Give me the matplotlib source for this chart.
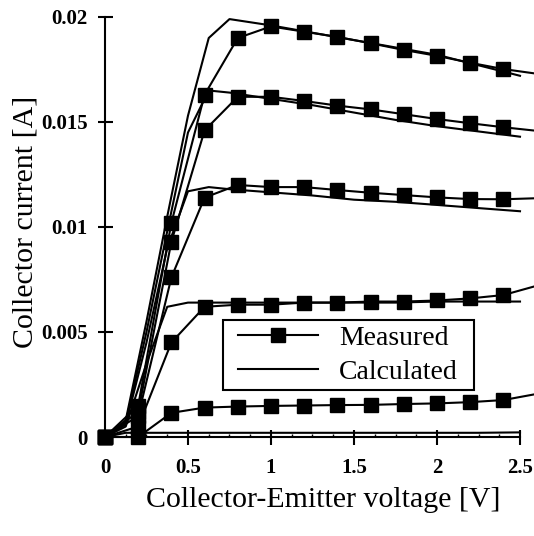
import matplotlib
matplotlib.use("Agg")
import matplotlib.pyplot as plt
import numpy as np
from matplotlib.ticker import MultipleLocator
from matplotlib.patches import Rectangle

plt.rcParams['font.family'] = ['Liberation Serif', 'DejaVu Serif']

# measured points (Vce step 0.2 V, last point lies past the axis end)
v_meas = [0, 0.2, 0.4, 0.6, 0.8, 1.0, 1.2, 1.4, 1.6, 1.8, 2.0, 2.2, 2.4, 2.6]
i_meas_1 = [0, 0.0015, 0.0102, 0.0163, 0.0190, 0.01955, 0.0193, 0.01905,
            0.01875, 0.01843, 0.01815, 0.01782, 0.01752, 0.0173]
i_meas_2 = [0, 0.0012, 0.0093, 0.0146, 0.0162, 0.0162, 0.0160, 0.01578,
            0.0156, 0.01537, 0.01514, 0.01494, 0.01475, 0.01458]
i_meas_3 = [0, 0.0010, 0.0076, 0.0114, 0.0120, 0.0119, 0.0119, 0.01176,
            0.01163, 0.01152, 0.01141, 0.01133, 0.01132, 0.01137]
i_meas_4 = [0, 0.0005, 0.0045, 0.0062, 0.0063, 0.0063, 0.0064, 0.0064,
            0.00645, 0.00645, 0.0065, 0.0066, 0.00676, 0.0072]
i_meas_5 = [0, 0, 0.00115, 0.0014, 0.00145, 0.00148, 0.0015, 0.00152,
            0.00153, 0.00157, 0.0016, 0.00166, 0.00176, 0.00205]

# calculated curves
v_calc = [0, 0.125, 0.25, 0.375, 0.5, 0.625, 0.75, 1.0, 1.25, 1.5, 1.75,
          2.0, 2.25, 2.5]
i_calc_1 = [0, 0.0008, 0.0055, 0.0105, 0.0153, 0.0190, 0.0199, 0.0196,
            0.01925, 0.0189, 0.01855, 0.0182, 0.0177, 0.0172]
i_calc_2 = [0, 0.0007, 0.0050, 0.0098, 0.0145, 0.0165, 0.0164, 0.0161,
            0.0158, 0.01545, 0.0151, 0.0148, 0.01455, 0.0143]
i_calc_3 = [0, 0.0006, 0.0045, 0.0090, 0.0117, 0.0119, 0.0118, 0.01165,
            0.0115, 0.0113, 0.0112, 0.01105, 0.0109, 0.01075]
i_calc_4 = [0, 0.0005, 0.0035, 0.0062, 0.0064, 0.0064, 0.0064, 0.0064,
            0.0064, 0.0064, 0.0064, 0.00645, 0.00645, 0.00645]
i_calc_5 = [0, 0.0002, 0.0002, 0.0002, 0.0002, 0.0002, 0.0002, 0.0002,
            0.0002, 0.0002, 0.0002, 0.0002, 0.0002, 0.00022]

meas = [i_meas_1, i_meas_2, i_meas_3, i_meas_4, i_meas_5]
calc = [i_calc_1, i_calc_2, i_calc_3, i_calc_4, i_calc_5]

fig = plt.figure(figsize=(5.34, 5.36), dpi=100)
ax = fig.add_axes([0.1966, 0.1847, 0.7772, 0.7836])

for k, i_m in enumerate(meas):
    ax.plot(v_meas, i_m, color='k', lw=1.5, marker='s', ms=10.5,
            markevery=slice(0, len(v_meas) - 1), clip_on=False,
            label='Measured' if k == 0 else None)
for k, i_c in enumerate(calc):
    ax.plot(v_calc, i_c, color='k', lw=1.5, clip_on=False,
            label='Calculated' if k == 0 else None)

ax.set_xlim(0, 2.5)
ax.set_ylim(0, 0.02)
ax.set_xticks([0, 0.5, 1, 1.5, 2, 2.5])
ax.set_xticklabels(['0', '0.5', '1', '1.5', '2', '2.5'])
ax.set_yticks([0, 0.005, 0.01, 0.015, 0.02])
ax.set_yticklabels(['0', '0.005', '0.01', '0.015', '0.02'])
ax.xaxis.set_minor_locator(MultipleLocator(0.125))

for s in ['top', 'right']:
    ax.spines[s].set_visible(False)
for s in ['left', 'bottom']:
    ax.spines[s].set_linewidth(1.5)

ax.tick_params(which='major', direction='inout', length=10.8, width=1.5,
               labelsize=15)
ax.tick_params(axis='x', which='major', pad=10)
ax.tick_params(axis='y', which='major', pad=7)
ax.tick_params(axis='x', which='minor', direction='in', length=2.5, width=1)
for lbl in ax.get_xticklabels() + ax.get_yticklabels():
    lbl.set_fontweight('bold')

ax.set_xlabel('Collector-Emitter voltage [V]', fontsize=21.5, va='center')
ax.xaxis.set_label_coords(0.525, -0.15)
ax.set_ylabel('Collector current [A]', fontsize=21.5, va='center')
ax.yaxis.set_label_coords(-0.192, 0.512)

# legend entries without frame, box drawn separately
leg = ax.legend(loc='upper left', bbox_to_anchor=(0.3198, 0.265),
                borderaxespad=0, borderpad=0, fontsize=20,
                handlelength=2.9, handletextpad=0.75, labelspacing=0.3,
                frameon=False)
ax.add_patch(Rectangle((0.2843, 0.1119), 0.6048, 0.1667,
                       transform=ax.transAxes, fill=False, ec='k', lw=1.5,
                       clip_on=False, zorder=5))

fig.savefig('out.png', dpi=100)
